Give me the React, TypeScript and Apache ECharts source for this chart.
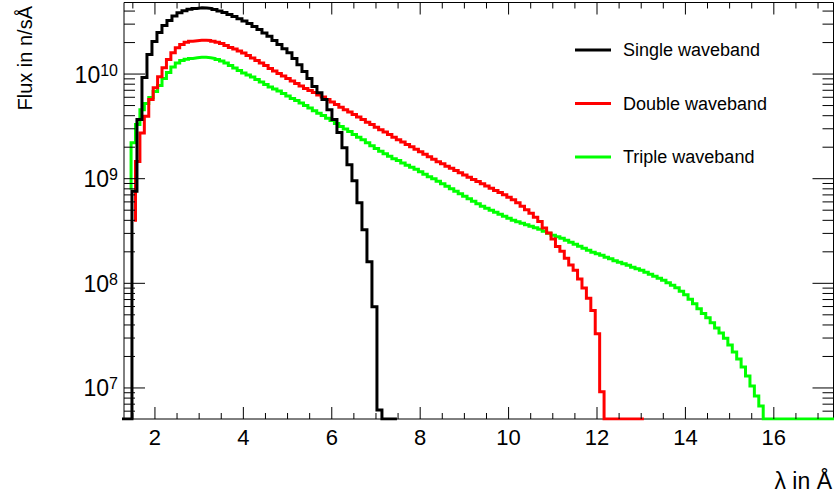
import React, { useEffect, useRef } from "react";
import * as echarts from "echarts";

const FONT = '"Liberation Sans", Arial, Helvetica, sans-serif';

// Axis ranges
const X_MIN = 1.3;
const X_MAX = 17.35;
const Y_MIN = 5.05e6;
const Y_MAX = 4.83e10;

// Tick positions
const xMajorTicks = [2, 4, 6, 8, 10, 12, 14, 16];
const xMinorTicks = [1.5, 2.5, 3, 3.5, 4.5, 5, 5.5, 6.5, 7, 7.5, 8.5, 9, 9.5, 10.5, 11, 11.5, 12.5, 13, 13.5, 14.5, 15, 15.5, 16.5, 17];
const yMajorTicks = [1e7, 1e8, 1e9, 1e10];
const yMinorTicks = [
  6e6, 7e6, 8e6, 9e6,
  2e7, 3e7, 4e7, 5e7, 6e7, 7e7, 8e7, 9e7,
  2e8, 3e8, 4e8, 5e8, 6e8, 7e8, 8e8, 9e8,
  2e9, 3e9, 4e9, 5e9, 6e9, 7e9, 8e9, 9e9,
  2e10, 3e10, 4e10,
];

const seriesNames = ["Single waveband", "Double waveband", "Triple waveband"];
const seriesColors = ["#000000", "#ff0000", "#00ff00"];

// Histograms: first low bin edge (Å), bin width (Å), level where the line starts, bin contents (n/sÅ, 0 = empty bin)
const singleStart = 1.254;
const singleWidth = 0.1131;
const singleStartLevel = 0;
const singleFlux = [
  0, 0, 7.6e8, 3.67e9, 9.26e9, 1.54e10, 2.05e10, 2.5e10, 2.91e10, 3.25e10, 3.59e10, 3.85e10,
  4.03e10, 4.16e10, 4.24e10, 4.3e10, 4.28e10, 4.22e10, 4.14e10, 4.01e10, 3.88e10, 3.71e10,
  3.55e10, 3.37e10, 3.21e10, 3.04e10, 2.85e10, 2.67e10, 2.47e10, 2.3e10, 2.09e10, 1.92e10,
  1.75e10, 1.6e10, 1.41e10, 1.23e10, 1.06e10, 9.06e9, 7.59e9, 6.61e9, 5.7e9, 4.57e9, 3.67e9,
  2.76e9, 1.98e9, 1.36e9, 9.57e8, 5.89e8, 3.25e8, 1.61e8, 5.96e7, 6.16e6, 0, 0, 0,
];

const doubleStart = 1.56;
const doubleWidth = 0.1;
const doubleStartLevel = 3.88e8;
const doubleFlux = [
  1.46e9, 2.74e9, 3.95e9, 5.7e9, 7.38e9, 9.4e9, 1.146e10, 1.377e10, 1.595e10, 1.781e10,
  1.916e10, 2.015e10, 2.055e10, 2.083e10, 2.101e10, 2.106e10, 2.092e10, 2.055e10, 2.011e10, 1.958e10,
  1.874e10, 1.793e10, 1.735e10, 1.66e10, 1.588e10, 1.503e10, 1.423e10, 1.347e10, 1.274e10, 1.206e10,
  1.129e10, 1.068e10, 1.011e10, 9.57e9, 9.06e9, 8.57e9, 8.11e9, 7.68e9, 7.27e9, 6.95e9,
  6.65e9, 6.3e9, 6.02e9, 5.7e9, 5.4e9, 5.11e9, 4.83e9, 4.57e9, 4.33e9, 4.1e9,
  3.88e9, 3.67e9, 3.47e9, 3.29e9, 3.11e9, 2.94e9, 2.79e9, 2.64e9, 2.49e9, 2.36e9,
  2.24e9, 2.12e9, 2.02e9, 1.915e9, 1.81e9, 1.715e9, 1.62e9, 1.537e9, 1.454e9, 1.391e9,
  1.317e9, 1.255e9, 1.196e9, 1.139e9, 1.085e9, 1.034e9, 9.85e8, 9.38e8, 8.94e8, 8.51e8,
  8.11e8, 7.73e8, 7.36e8, 7.03e8, 6.65e8, 6.3e8, 5.89e8, 5.45e8, 5.05e8, 4.68e8,
  4.28e8, 3.9e8, 3.37e8, 3.02e8, 2.65e8, 2.25e8, 2.02e8, 1.74e8, 1.5e8, 1.33e8,
  1.1e8, 9.0e7, 7.22e7, 5.49e7, 3.29e7, 9.22e6,
  0, 0, 0, 0, 0, 0, 0, 0, 0,
];

const tripleStart = 1.46;
const tripleWidth = 0.1;
const tripleStartLevel = 7.85e8;
const tripleFlux = [
  2.2e9, 3.29e9, 4.57e9, 5.22e9, 5.96e9, 6.8e9, 7.76e9, 9.06e9, 1.034e10, 1.167e10,
  1.274e10, 1.347e10, 1.385e10, 1.41e10, 1.429e10, 1.445e10, 1.445e10, 1.429e10, 1.407e10, 1.377e10,
  1.332e10, 1.274e10, 1.206e10, 1.141e10, 1.08e10, 1.022e10, 9.78e9, 9.36e9, 8.86e9, 8.38e9,
  7.94e9, 7.51e9, 7.19e9, 6.88e9, 6.51e9, 6.16e9, 5.83e9, 5.58e9, 5.28e9, 5.0e9,
  4.73e9, 4.47e9, 4.23e9, 4.01e9, 3.79e9, 3.59e9, 3.36e9, 3.15e9, 2.98e9, 2.82e9,
  2.64e9, 2.49e9, 2.36e9, 2.21e9, 2.07e9, 1.94e9, 1.83e9, 1.73e9, 1.64e9, 1.55e9,
  1.49e9, 1.41e9, 1.346e9, 1.288e9, 1.233e9, 1.167e9, 1.104e9, 1.045e9, 1.0e9, 9.46e8,
  8.96e8, 8.48e8, 8.02e8, 7.59e8, 7.19e8, 6.8e8, 6.44e8, 6.09e8, 5.77e8, 5.45e8,
  5.22e8, 5.0e8, 4.78e8, 4.57e8, 4.38e8, 4.19e8, 4.01e8, 3.88e8, 3.75e8, 3.63e8,
  3.51e8, 3.4e8, 3.29e8, 3.15e8, 3.01e8, 2.88e8, 2.79e8, 2.7e8, 2.58e8, 2.47e8,
  2.36e8, 2.26e8, 2.16e8, 2.07e8, 1.98e8, 1.915e8, 1.853e8, 1.773e8, 1.715e8, 1.642e8,
  1.589e8, 1.537e8, 1.487e8, 1.423e8, 1.377e8, 1.332e8, 1.274e8, 1.22e8, 1.167e8, 1.116e8,
  1.068e8, 1.011e8, 9.57e7, 9.06e7, 8.39e7, 7.76e7, 7.03e7, 6.37e7, 5.7e7, 5.16e7,
  4.68e7, 4.19e7, 3.75e7, 3.36e7, 2.98e7, 2.58e7, 2.21e7, 1.894e7, 1.589e7, 1.302e7,
  1.045e7, 8.38e6, 6.73e6,
  0, 0, 0, 0, 0, 0, 0, 0, 0, 0, 0, 0, 0, 0, 0, 0,
];

// empty bins are drawn on the lower frame edge, as ROOT does on a log axis
const level = (v: number) => (v > 0 ? v : Y_MIN);

function histPoints(start: number, width: number, startLevel: number, values: number[]) {
  const pts: number[][] = [[start, level(startLevel)]];
  values.forEach((v, i) => pts.push([start + (i + 1) * width, level(v)]));
  return pts;
}

export default function App() {
  const ref = useRef<HTMLDivElement>(null);

  useEffect(() => {
    if (!ref.current) return;
    const chart = echarts.init(ref.current, null, { renderer: "svg" });

    const histSeries = (name: string, color: string, data: number[][], z: number) => ({
      type: "line",
      name,
      data,
      step: "start",
      symbol: "none",
      showSymbol: false,
      clip: true,
      silent: true,
      z,
      itemStyle: { color },
      lineStyle: { color, width: 3, join: "miter" },
    });

    const xTickData = [
      ...xMajorTicks.map((v) => [v, Y_MIN, 12]),
      ...xMinorTicks.map((v) => [v, Y_MIN, 6]),
    ];
    const yTickData = [
      ...yMajorTicks.map((v) => [X_MIN, v, 21]),
      ...yMinorTicks.map((v) => [X_MIN, v, 11]),
    ];

    const tickStyle = { stroke: "#000", lineWidth: 1 };

    chart.setOption({
      animation: false,
      backgroundColor: "#ffffff",
      grid: {
        left: 124,
        right: 1.5,
        top: 2.5,
        bottom: 80,
        show: true,
        borderColor: "#000",
        borderWidth: 1,
        backgroundColor: "transparent",
      },
      legend: {
        data: seriesNames.map((n) => ({ name: n, icon: "rect" })),
        orient: "vertical",
        left: 570,
        top: 35,
        itemWidth: 36,
        itemHeight: 3,
        itemGap: 33.5,
        selectedMode: false,
        textStyle: {
          fontSize: 18,
          fontFamily: FONT,
          color: "#000",
          lineHeight: 20,
          padding: [0, 0, 0, 7],
        },
      },
      xAxis: {
        type: "value",
        min: X_MIN,
        max: X_MAX,
        splitNumber: 8,
        axisLine: { show: false },
        axisTick: { show: false },
        splitLine: { show: false },
        axisLabel: {
          fontSize: 22,
          fontFamily: FONT,
          color: "#000",
          margin: 7,
          showMinLabel: false,
          showMaxLabel: false,
          formatter: (v: number) => (xMajorTicks.includes(v) ? String(v) : ""),
        },
      },
      yAxis: {
        type: "log",
        logBase: 10,
        min: Y_MIN,
        max: Y_MAX,
        axisLine: { show: false },
        axisTick: { show: false },
        splitLine: { show: false },
        axisLabel: {
          margin: 6,
          showMinLabel: false,
          showMaxLabel: false,
          formatter: (v: number) => {
            const e = Math.log10(v);
            const r = Math.round(e);
            if (Math.abs(e - r) > 1e-6) return "";
            return `{b|10}{s|${r}}`;
          },
          rich: {
            b: { fontSize: 23, fontFamily: FONT, color: "#000", lineHeight: 23, padding: [8, 0, 0, 0], verticalAlign: "bottom" },
            s: { fontSize: 16, fontFamily: FONT, color: "#000", lineHeight: 24, verticalAlign: "top" },
          },
        },
      },
      graphic: [
        {
          type: "text",
          x: 832,
          y: 481,
          style: {
            text: "λ in Å",
            font: `23px ${FONT}`,
            fill: "#000",
            align: "right",
            verticalAlign: "middle",
            textAlign: "right",
            textVerticalAlign: "middle",
          },
        },
        {
          type: "text",
          x: 25,
          y: 6,
          rotation: Math.PI / 2,
          style: {
            text: "Flux in n/sÅ",
            font: `20px ${FONT}`,
            fill: "#000",
            align: "right",
            verticalAlign: "middle",
            textAlign: "right",
            textVerticalAlign: "middle",
          },
        },
      ],
      series: [
        histSeries(seriesNames[2], seriesColors[2], histPoints(tripleStart, tripleWidth, tripleStartLevel, tripleFlux), 2),
        histSeries(seriesNames[1], seriesColors[1], histPoints(doubleStart, doubleWidth, doubleStartLevel, doubleFlux), 3),
        histSeries(seriesNames[0], seriesColors[0], histPoints(singleStart, singleWidth, singleStartLevel, singleFlux), 4),
        {
          type: "custom",
          silent: true,
          z: 6,
          encode: { x: 0, y: 1 },
          data: xTickData,
          renderItem: (params: any, api: any) => {
            const v = api.value(0);
            const len = api.value(2);
            const b = api.coord([v, Y_MIN]);
            const t = api.coord([v, Y_MAX]);
            return {
              type: "group",
              children: [
                { type: "line", shape: { x1: b[0], y1: b[1], x2: b[0], y2: b[1] - len }, style: tickStyle },
                { type: "line", shape: { x1: t[0], y1: t[1], x2: t[0], y2: t[1] + len }, style: tickStyle },
              ],
            };
          },
        },
        {
          type: "custom",
          silent: true,
          z: 6,
          encode: { x: 0, y: 1 },
          data: yTickData,
          renderItem: (params: any, api: any) => {
            const v = api.value(1);
            const len = api.value(2);
            const l = api.coord([X_MIN, v]);
            const r = api.coord([X_MAX, v]);
            return {
              type: "group",
              children: [
                { type: "line", shape: { x1: l[0], y1: l[1], x2: l[0] + len, y2: l[1] }, style: tickStyle },
                { type: "line", shape: { x1: r[0], y1: r[1], x2: r[0] - len, y2: r[1] }, style: tickStyle },
              ],
            };
          },
        },
      ],
    });

    return () => chart.dispose();
  }, []);

  return (
    <div
      ref={ref}
      style={{ position: "absolute", left: 0, top: 0, width: 835, height: 499, background: "#fff" }}
    />
  );
}
